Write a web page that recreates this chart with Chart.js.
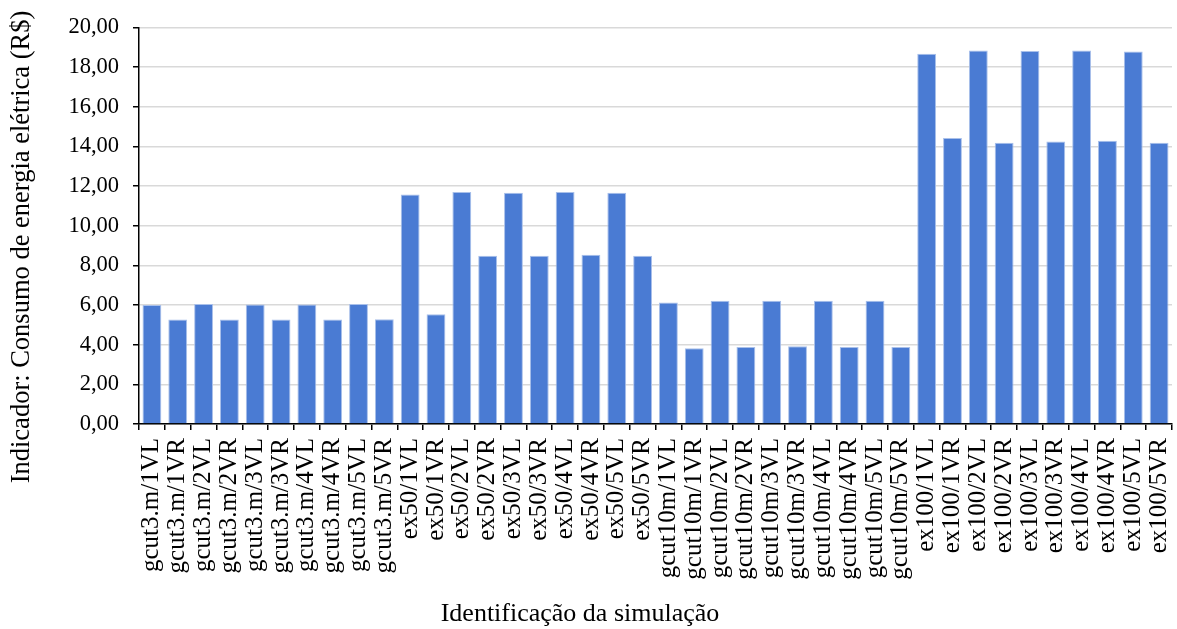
<!DOCTYPE html>
<html><head><meta charset="utf-8">
<script src="https://cdn.jsdelivr.net/npm/chart.js@4.4.0/dist/chart.umd.min.js"></script>
<style>html,body{margin:0;padding:0;background:#fff}canvas{display:block}</style>
</head><body>
<canvas id="c" width="1177" height="629"></canvas>
<script>
const categories = [
 "gcut3.m/1VL","gcut3.m/1VR","gcut3.m/2VL","gcut3.m/2VR","gcut3.m/3VL","gcut3.m/3VR","gcut3.m/4VL","gcut3.m/4VR","gcut3.m/5VL","gcut3.m/5VR",
 "ex50/1VL","ex50/1VR","ex50/2VL","ex50/2VR","ex50/3VL","ex50/3VR","ex50/4VL","ex50/4VR","ex50/5VL","ex50/5VR",
 "gcut10m/1VL","gcut10m/1VR","gcut10m/2VL","gcut10m/2VR","gcut10m/3VL","gcut10m/3VR","gcut10m/4VL","gcut10m/4VR","gcut10m/5VL","gcut10m/5VR",
 "ex100/1VL","ex100/1VR","ex100/2VL","ex100/2VR","ex100/3VL","ex100/3VR","ex100/4VL","ex100/4VR","ex100/5VL","ex100/5VR"
];
const consumo = [
 6.00,5.27,6.05,5.27,6.03,5.27,6.03,5.27,6.05,5.29,
 11.58,5.54,11.70,8.49,11.67,8.49,11.70,8.54,11.67,8.49,
 6.13,3.82,6.22,3.88,6.22,3.92,6.22,3.88,6.22,3.88,
 18.68,14.42,18.84,14.19,18.81,14.25,18.84,14.29,18.79,14.19
];
const yTitle = "Indicador: Consumo de energia elétrica (R$)";
const xTitle = "Identificação da simulação";
const yMin = 0, yMax = 20, yStep = 2;

const font = "'Liberation Serif','Times New Roman',serif";

const titlesPlugin = {
  id: 'axisTitles',
  afterDraw(chart) {
    const ctx = chart.ctx;
    ctx.save();
    ctx.fillStyle = '#000';
    ctx.textAlign = 'center';
    ctx.textBaseline = 'middle';
    ctx.font = "26.5px " + font;
    ctx.translate(22, 247);
    ctx.rotate(-Math.PI / 2);
    ctx.fillText(yTitle, 0, 0);
    ctx.restore();
    ctx.save();
    ctx.fillStyle = '#000';
    ctx.textAlign = 'center';
    ctx.textBaseline = 'middle';
    ctx.font = "26px " + font;
    ctx.fillText(xTitle, 580, 614);
    ctx.restore();
  }
};

new Chart(document.getElementById('c'), {
  type: 'bar',
  data: { labels: categories, datasets: [{
    data: consumo,
    backgroundColor: '#4a7bd3',
    borderColor: '#a9c0ea',
    borderWidth: 1,
    categoryPercentage: 1.0,
    barPercentage: 0.73
  }]},
  options: {
    responsive: false,
    devicePixelRatio: 1,
    animation: false,
    layout: { padding: { top: 27, right: 5, left: 0, bottom: 0 } },
    plugins: { legend: { display: false }, tooltip: { enabled: false } },
    scales: {
      x: {
        afterFit: s => { s.height = 205; s.paddingLeft = 0; s.paddingRight = 0; },
        grid: { drawOnChartArea: false, drawTicks: true, tickLength: 6, tickColor: '#000', lineWidth: 1.5 },
        border: { color: '#000', width: 1.5 },
        ticks: { color: '#000', font: { family: font, size: 25 }, minRotation: 90, maxRotation: 90, autoSkip: false, padding: 8 },
        title: { display: false }
      },
      y: {
        min: yMin, max: yMax,
        afterFit: s => { s.width = 139; },
        grid: { color: '#d9d9d9', lineWidth: 1.5, drawTicks: true, tickLength: 6, tickColor: '#000' },
        border: { color: '#000', width: 1.5 },
        ticks: { stepSize: yStep, color: '#000', font: { family: font, size: 22.5 }, padding: 14,
          callback: v => v.toFixed(2).replace('.', ',') },
        title: { display: false }
      }
    }
  },
  plugins: [titlesPlugin]
});
</script>
</body></html>
